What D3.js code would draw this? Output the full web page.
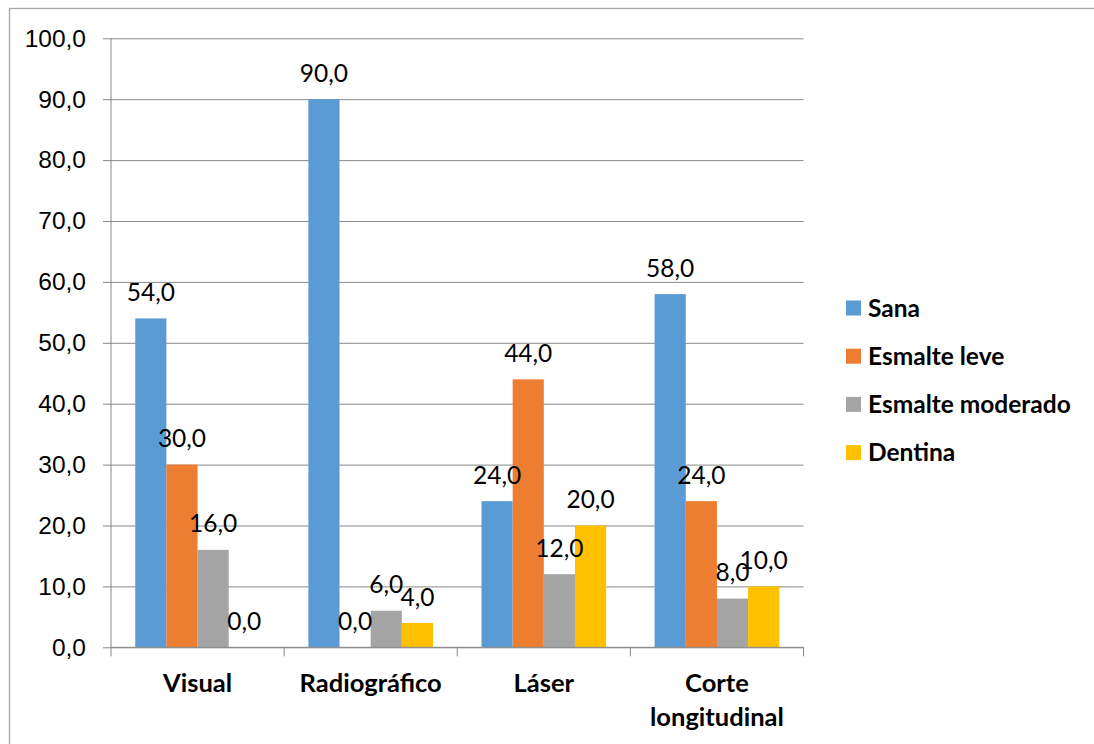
<!DOCTYPE html>
<html>
<head>
<meta charset="utf-8">
<script src="https://cdn.jsdelivr.net/npm/d3@7"></script>
<style>
  html, body { margin: 0; padding: 0; background: #fff; }
  svg { display: block; font-family: Lato, "Open Sans", sans-serif; }
</style>
</head>
<body>
<svg id="chart" width="1094" height="744"></svg>
<script>
// Diagnostic methods (categories) and caries grades (series)
const categories = [["Visual"], ["Radiográfico"], ["Láser"], ["Corte", "longitudinal"]];
const seriesNames = ["Sana", "Esmalte leve", "Esmalte moderado", "Dentina"];
const seriesColors = ["#5B9BD5", "#ED7D31", "#A5A5A5", "#FFC000"];
const sana = [54, 90, 24, 58];
const esmalteLeve = [30, 0, 44, 24];
const esmalteModerado = [16, 6, 12, 8];
const dentina = [0, 4, 20, 10];
const yTicks = [0, 10, 20, 30, 40, 50, 60, 70, 80, 90, 100];

const seriesValues = [sana, esmalteLeve, esmalteModerado, dentina];
const catKeys = categories.map(c => c.join(" "));
const fmt = v => v.toFixed(1).replace(".", ",");

const svg = d3.select("#chart");

// Outer chart frame
svg.append("rect")
  .attr("x", 9.5).attr("y", 8.5)
  .attr("width", 1200).attr("height", 800)
  .attr("fill", "none").attr("stroke", "#a6a6a6").attr("stroke-width", 1.3);

const plot = { left: 111, right: 803.5, top: 38.3, bottom: 647.3 };

const y = d3.scaleLinear().domain([0, 100]).range([plot.bottom, plot.top]);
const x0 = d3.scaleBand().domain(catKeys)
  .range([plot.left, plot.right]).paddingInner(0.28).paddingOuter(0.14);
const x1 = d3.scaleBand().domain(seriesNames).range([0, x0.bandwidth()]);

// Horizontal gridlines + y axis
const yAxis = d3.axisLeft(y).tickValues(yTicks).tickFormat(fmt)
  .tickSize(-(plot.right - plot.left) - 8).tickSizeOuter(0).tickPadding(25);
const gy = svg.append("g").attr("transform", `translate(${plot.left},0)`).call(yAxis);
gy.select(".domain").remove();
gy.selectAll(".tick line").attr("x1", -8).attr("x2", plot.right - plot.left)
  .attr("stroke", "#898989").attr("stroke-width", 1);
gy.selectAll(".tick text").attr("font-size", 24.5).attr("fill", "#000");

svg.append("line")
  .attr("x1", plot.left).attr("x2", plot.left)
  .attr("y1", plot.top).attr("y2", plot.bottom)
  .attr("stroke", "#898989");

// Bars
const groups = svg.append("g").selectAll("g")
  .data(catKeys).join("g")
  .attr("transform", d => `translate(${x0(d)},0)`);

groups.selectAll("rect")
  .data((d, i) => seriesNames.map((s, j) => ({ s, v: seriesValues[j][i], c: seriesColors[j] })))
  .join("rect")
  .attr("x", d => x1(d.s))
  .attr("width", x1.bandwidth())
  .attr("y", d => y(d.v))
  .attr("height", d => y(0) - y(d.v))
  .attr("fill", d => d.c);

// Value labels
groups.selectAll("text.val")
  .data((d, i) => seriesNames.map((s, j) => ({ s, v: seriesValues[j][i] })))
  .join("text").attr("class", "val")
  .attr("x", d => x1(d.s) + x1.bandwidth() / 2)
  .attr("y", d => y(d.v) - 26)
  .attr("dy", "0.35em")
  .attr("text-anchor", "middle")
  .attr("font-size", 24.5)
  .attr("fill", "#000")
  .text(d => fmt(d.v));

// X axis line and category separators
const xAxis = svg.append("g");
xAxis.append("line")
  .attr("x1", plot.left).attr("x2", plot.right)
  .attr("y1", plot.bottom).attr("y2", plot.bottom)
  .attr("stroke", "#898989");
const boundaries = catKeys.map(k => x0(k) - x0.step() * x0.paddingInner() / 2);
boundaries[0] = plot.left;
boundaries.push(plot.right);
xAxis.selectAll("line.sep").data(boundaries).join("line").attr("class", "sep")
  .attr("x1", d => d).attr("x2", d => d)
  .attr("y1", plot.bottom).attr("y2", plot.bottom + 9)
  .attr("stroke", "#898989");

// Category labels (bold, may wrap onto two lines)
const catLabels = xAxis.selectAll("text.cat").data(categories).join("text").attr("class", "cat")
  .attr("text-anchor", "middle")
  .attr("font-size", 25.5)
  .attr("font-weight", "bold")
  .attr("fill", "#000");
catLabels.each(function (lines, i) {
  const cx = x0(catKeys[i]) + x0.bandwidth() / 2;
  d3.select(this).selectAll("tspan").data(lines).join("tspan")
    .attr("x", cx)
    .attr("y", (d, k) => 683 + k * 34)
    .attr("dy", "0.35em")
    .text(d => d);
});

// Legend
const legend = svg.append("g").attr("transform", "translate(846,308)");
const li = legend.selectAll("g").data(seriesNames).join("g")
  .attr("transform", (d, i) => `translate(0,${i * 48.2})`);
li.append("rect").attr("x", 0).attr("y", -7.5).attr("width", 15).attr("height", 15)
  .attr("fill", (d, i) => seriesColors[i]);
li.append("text").attr("x", 22).attr("y", 0).attr("dy", "0.35em")
  .attr("font-size", 24.5).attr("font-weight", "bold").attr("fill", "#000")
  .text(d => d);
</script>
</body>
</html>
